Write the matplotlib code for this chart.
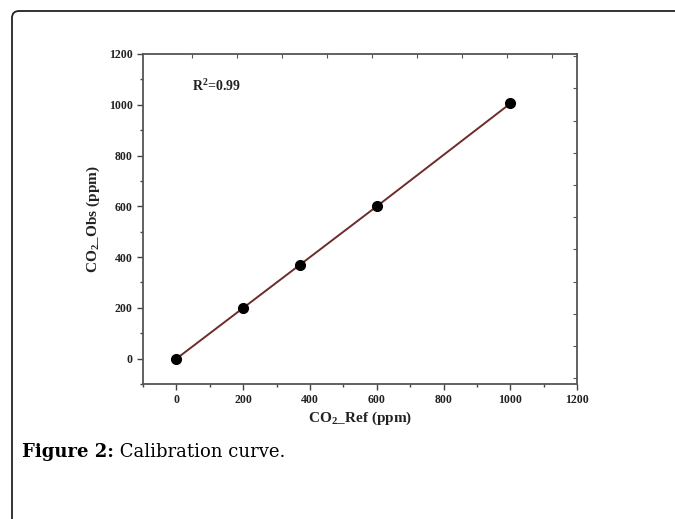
import numpy as np
import matplotlib
matplotlib.use('Agg')
import matplotlib.pyplot as plt
from matplotlib.patches import FancyBboxPatch
from matplotlib.transforms import IdentityTransform

# calibration data
co2_ref = [0, 200, 370, 600, 1000]
co2_obs = [0, 200, 370, 600, 1005]
r2_text = 'R$^{\\mathbf{2}}$=0.99'
caption_bold = 'Figure 2:'
caption_text = ' Calibration curve.'

plt.rcParams['font.family'] = 'Liberation Serif'
plt.rcParams['mathtext.fontset'] = 'custom'
plt.rcParams['mathtext.rm'] = 'Liberation Serif:bold'
plt.rcParams['mathtext.bf'] = 'Liberation Serif:bold'

fig = plt.figure(figsize=(6.75, 5.19), dpi=100)
ax = fig.add_axes([0.212, 0.260, 0.643, 0.636])

line_color = '#6e2b2b'
ax.plot(co2_ref, co2_obs, color=line_color, lw=1.4, zorder=2)
ax.plot(co2_ref, co2_obs, 'o', color='black', ms=7, zorder=3)

ax.set_xlim(-100, 1200)
ax.set_ylim(-100, 1200)
ax.set_xticks(np.arange(0, 1201, 200))
ax.set_yticks(np.arange(0, 1201, 200))
ax.set_xticks(np.arange(-100, 1201, 100), minor=True)
ax.set_yticks(np.arange(-100, 1201, 100), minor=True)
ax.tick_params(which='major', direction='out', length=4, width=1,
               labelsize=8.5, color='#444444', labelcolor='#222222')
ax.tick_params(which='minor', direction='out', length=2.5, width=1,
               color='#444444')
for lab in ax.get_xticklabels() + ax.get_yticklabels():
    lab.set_fontweight('bold')

for sp in ax.spines.values():
    sp.set_color('#555555')
    sp.set_linewidth(1.3)

# top / right ticks without labels
top = ax.twiny()
top.set_xlim(ax.get_xlim())
top.set_xticks(np.arange(45, 1200, 135))
top.tick_params(direction='in', length=3, labeltop=False, color='#555555')
right = ax.twinx()
right.set_ylim(ax.get_ylim())
right.set_yticks(np.arange(-78, 1200, 127))
right.tick_params(direction='in', length=3, labelright=False,
                  color='#555555')
for a in (top, right):
    for sp in a.spines.values():
        sp.set_visible(False)

ax.set_xlabel('CO$_2$_Ref (ppm)', fontsize=11, fontweight='bold',
              labelpad=2, color='#222222')
ax.set_ylabel('CO$_2$_Obs (ppm)', fontsize=11, fontweight='bold',
              labelpad=5, color='#222222')
ax.text(0.113, 0.905, r2_text, transform=ax.transAxes, fontsize=10,
        fontweight='bold', va='center', color='#222222')

# caption
t = fig.text(22 / 675, 1 - 452 / 519, caption_bold, fontsize=13,
             fontweight='bold', va='center', family='DejaVu Serif')
fig.canvas.draw()
bb = t.get_window_extent()
fig.text(bb.x1 / 675, 1 - 452 / 519, caption_text, fontsize=13,
         va='center', family='DejaVu Serif')

# rounded frame open at right and bottom
frame = FancyBboxPatch((12, -30), 720, 508 + 30, transform=IdentityTransform(),
                       boxstyle='round,pad=0,rounding_size=7',
                       fill=False, ec='#222222', lw=1.3)
fig.patches.append(frame)

fig.savefig('out.png', dpi=100)
